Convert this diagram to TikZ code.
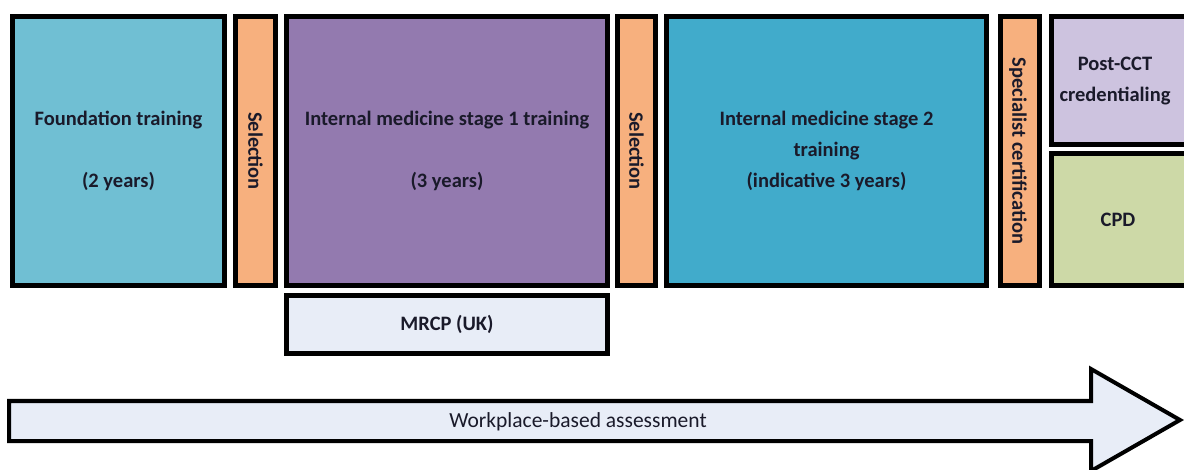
\documentclass[tikz,border=0pt]{standalone}
\usepackage{fontspec}
\setmainfont{Carlito}
\definecolor{cfound}{HTML}{70BFD3}
\definecolor{csel}{HTML}{F7B07E}
\definecolor{cim1}{HTML}{937AAF}
\definecolor{cim2}{HTML}{41ABCB}
\definecolor{cpost}{HTML}{CDC3DF}
\definecolor{ccpd}{HTML}{CDD9A7}
\definecolor{clight}{HTML}{E8EDF7}
\definecolor{ctext}{HTML}{1A1A2A}
\tikzset{
  box/.style={draw=black, line width=5pt, inner sep=0pt, align=center,
    text=ctext, font=\fontsize{20.5}{31}\selectfont\bfseries},
  vlabel/.style={rotate=-90, text=ctext, font=\fontsize{20.5}{24}\selectfont\bfseries},
  plain/.style={text=ctext, align=center, font=\fontsize{20.5}{31}\selectfont\bfseries}
}
\begin{document}
\begin{tikzpicture}[x=1pt,y=-1pt]
\useasboundingbox (0,0) rectangle (1184,470);
\fill[white] (0,0) rectangle (1184,470);
% main boxes
\node[box, fill=cfound, minimum width=212pt, minimum height=269pt] (found) at (118.5,151)
  {Foundation training\\[31pt](2 years)};
\node[box, fill=csel, minimum width=40pt, minimum height=269pt] (sel1) at (255.5,151) {};
\node[vlabel] (sel1t) at (sel1.center) {Selection};
\node[box, fill=cim1, minimum width=321pt, minimum height=269pt] (im1) at (447,151)
  {Internal medicine stage 1 training\\[31pt](3 years)};
\node[box, fill=clight, minimum width=321pt, minimum height=58pt] (mrcp) at (447,324.5) {MRCP (UK)};
\node[box, fill=csel, minimum width=38pt, minimum height=269pt] (sel2) at (636.5,151) {};
\node[vlabel] (sel2t) at (sel2.center) {Selection};
\node[box, fill=cim2, minimum width=320pt, minimum height=269pt] (im2) at (826.5,151)
  {Internal medicine stage 2\\training\\(indicative 3 years)};
\node[box, fill=csel, minimum width=39pt, minimum height=269pt] (spec) at (1020,151) {};
\node[vlabel] (spect) at (1018,151) {Specialist certification};
% right column (extends past the page edge)
\node[box, fill=cpost, minimum width=160pt, minimum height=128pt, anchor=west] (post) at (1048.5,80.5) {};
\node[plain] (postt) at (1115,81.5) {Post-CCT\\credentialing};
\node[box, fill=ccpd, minimum width=160pt, minimum height=132pt, anchor=west] (cpd) at (1048.5,219.5) {};
\node[plain] (cpdt) at (1118,220) {CPD};
% arrow
\coordinate (a1) at (9,401);
\coordinate (a2) at (1091,401);
\coordinate (a3) at (1091,369);
\coordinate (a4) at (1180,420);
\coordinate (a5) at (1091,471);
\coordinate (a6) at (1091,441);
\coordinate (a7) at (9,441);
\draw[line width=4pt, fill=clight, line join=miter] (a1) -- (a2) -- (a3) -- (a4) -- (a5) -- (a6) -- (a7) -- cycle;
\node[text=ctext, font=\fontsize{21.5}{24}\selectfont] (wba) at (578,422) {Workplace-based assessment};
\end{tikzpicture}
\end{document}
